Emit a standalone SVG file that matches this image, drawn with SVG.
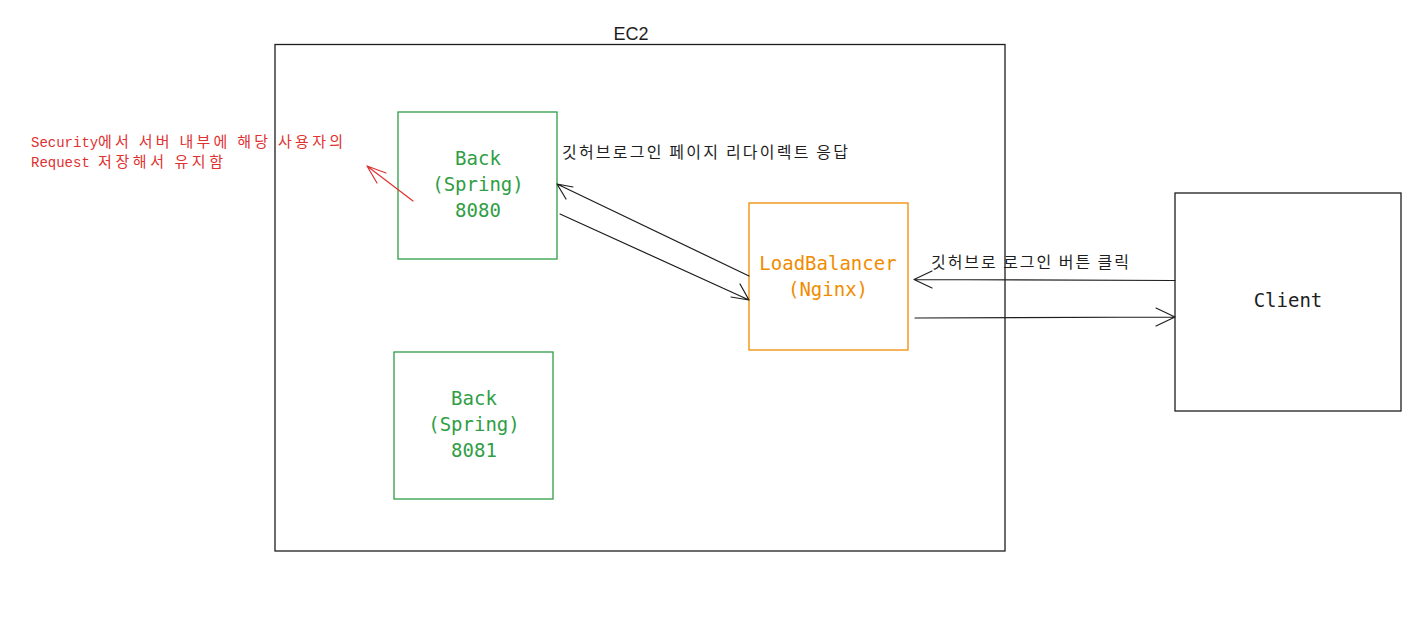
<svg xmlns="http://www.w3.org/2000/svg" width="1424" height="619" viewBox="0 0 1424 619">
<defs>
<style>
.box{fill:none;stroke-width:1.3}
.g{stroke:#2f9e44}
.o{stroke:#f08c00}
.k{stroke:#1e1e1e}
.nt{font-family:"DejaVu Sans Mono","Liberation Mono","Noto Sans CJK KR",monospace;font-size:19px;text-anchor:middle}
.lbl{font-family:"Noto Sans CJK KR","Noto Sans",sans-serif;font-size:16px;fill:#1e1e1e}
.red{font-family:"Liberation Mono","Noto Sans CJK KR",monospace;font-size:14px;fill:#e03131}
.redk{font-family:"Noto Sans CJK KR",sans-serif;font-size:15px;fill:#e03131}
.ln{fill:none;stroke:#1e1e1e;stroke-width:1.2;stroke-linecap:round}
</style>
</defs>
<rect width="1424" height="619" fill="#ffffff"/>
<g id="ec2">
<rect class="box k" x="275" y="44.5" width="730" height="506.5"/>
<text x="631" y="40" font-family="Liberation Sans,Arial,sans-serif" font-size="18" text-anchor="middle" fill="#1e1e1e">EC2</text>
</g>
<g id="back8080">
<rect class="box g" x="398" y="112" width="159" height="147"/>
<text class="nt" fill="#2f9e44" x="478" y="165">Back</text>
<text class="nt" fill="#2f9e44" x="478" y="191">(Spring)</text>
<text class="nt" fill="#2f9e44" x="478" y="217">8080</text>
</g>
<g id="back8081">
<rect class="box g" x="394" y="352" width="159" height="147"/>
<text class="nt" fill="#2f9e44" x="474" y="405">Back</text>
<text class="nt" fill="#2f9e44" x="474" y="431">(Spring)</text>
<text class="nt" fill="#2f9e44" x="474" y="457">8081</text>
</g>
<g id="loadbalancer">
<rect class="box o" x="749" y="203" width="159" height="147"/>
<text class="nt" fill="#f08c00" x="828" y="270">LoadBalancer</text>
<text class="nt" fill="#f08c00" x="828" y="296">(Nginx)</text>
</g>
<g id="client">
<rect class="box k" x="1175" y="193" width="226" height="218"/>
<text class="nt" fill="#1e1e1e" x="1288" y="307">Client</text>
</g>
<g id="note">
<text class="red" x="31" y="147">Security</text>
<text class="redk" x="98" y="147" textLength="245" lengthAdjust="spacing">에서 서버 내부에 해당 사용자의</text>
<text class="red" x="31" y="167">Request</text>
<text class="redk" x="98" y="167" textLength="125" lengthAdjust="spacing">저장해서 유지함</text>
</g>
<g id="connectors">
<path class="ln" style="stroke:#e03131" d="M413 201 L367 166 M367 166 L386 173 M367 166 L377 183"/>
<path class="ln" d="M749 276 L557 184 M557 184 L573 187 M557 184 L566 199"/>
<path class="ln" d="M560 214 L749 300 M749 300 L731 297 M749 300 L740 284"/>
<path class="ln" d="M1175 280.5 L914 279.5 M914 279.5 L932 271 M914 279.5 L932 288"/>
<path class="ln" d="M915 318 L1175 317 M1175 317 L1156 308 M1175 317 L1156 326"/>
<text class="lbl" x="562" y="158" textLength="286" lengthAdjust="spacing">깃허브로그인 페이지 리다이렉트 응답</text>
<text class="lbl" x="931" y="268" textLength="198" lengthAdjust="spacing">깃허브로 로그인 버튼 클릭</text>
</g>
</svg>
